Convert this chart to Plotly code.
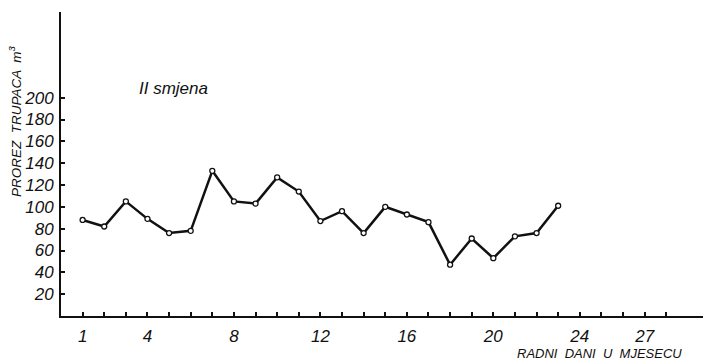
import plotly.graph_objects as go

days = list(range(1, 24))
values = [88, 82, 105, 89, 76, 78, 133, 105, 103, 127, 114,
          87, 96, 76, 100, 93, 86, 47, 71, 53, 73, 76, 101]

x_tick_days = list(range(1, 29))
x_label_days = [1, 4, 8, 12, 16, 20, 24, 27]
y_ticks = [20, 40, 60, 80, 100, 120, 140, 160, 180, 200]

FONT = "Liberation Sans, Arial, sans-serif"
tick_font = dict(family=FONT, size=17, color="#111", style="italic")

fig = go.Figure()
fig.add_trace(go.Scatter(
    x=days, y=values, mode="lines+markers",
    line=dict(color="#111", width=2.5),
    marker=dict(symbol="circle", size=5, color="white", line=dict(color="#111", width=1.3)),
    showlegend=False, hoverinfo="x+y",
))

fig.update_layout(
    width=707, height=361,
    margin=dict(l=61, r=4, t=12, b=45),
    paper_bgcolor="white", plot_bgcolor="white",
    xaxis=dict(
        range=[0, 29.7], showgrid=False, zeroline=False,
        showline=True, linecolor="#111", linewidth=2,
        tickmode="array", tickvals=x_label_days,
        ticktext=[str(d) for d in x_label_days],
        ticks="inside", ticklen=4, tickwidth=1.5, tickcolor="#111",
        minor=dict(tickmode="array", tickvals=x_tick_days, ticks="inside",
                   ticklen=4, tickwidth=1.5, tickcolor="#111", showgrid=False),
        tickfont=tick_font, ticklabelstandoff=4,
    ),
    yaxis=dict(
        range=[0, 278.5], showgrid=False, zeroline=False,
        showline=True, linecolor="#111", linewidth=2,
        tickmode="array", tickvals=y_ticks, ticktext=[str(v) for v in y_ticks],
        ticks="inside", ticklen=4, tickwidth=1.5, tickcolor="#111",
        tickfont=tick_font, ticklabelstandoff=2,
    ),
    annotations=[
        dict(text="II smjena", xref="paper", yref="paper", x=(137 - 61) / 642, y=(316 - 88) / 304,
             xanchor="left", yanchor="middle", showarrow=False,
             font=dict(family=FONT, size=17, color="#111", style="italic")),
        dict(text="PROREZ  TRUPACA  m<sup>3</sup>", xref="paper", yref="paper",
             x=-(61 - 15) / 642, y=(316 - 121) / 304, textangle=-90,
             xanchor="center", yanchor="middle", showarrow=False,
             font=dict(family=FONT, size=13.5, color="#111", style="italic")),
        dict(text="RADNI  DANI  U  MJESECU", xref="paper", yref="paper",
             x=(684 - 61) / 642, y=-(353 - 316) / 304,
             xanchor="right", yanchor="middle", showarrow=False,
             font=dict(family=FONT, size=13, color="#111", style="italic")),
    ],
)

fig.write_html("out.html", post_script="document.body.style.margin='0';",
               config={"displayModeBar": False})
